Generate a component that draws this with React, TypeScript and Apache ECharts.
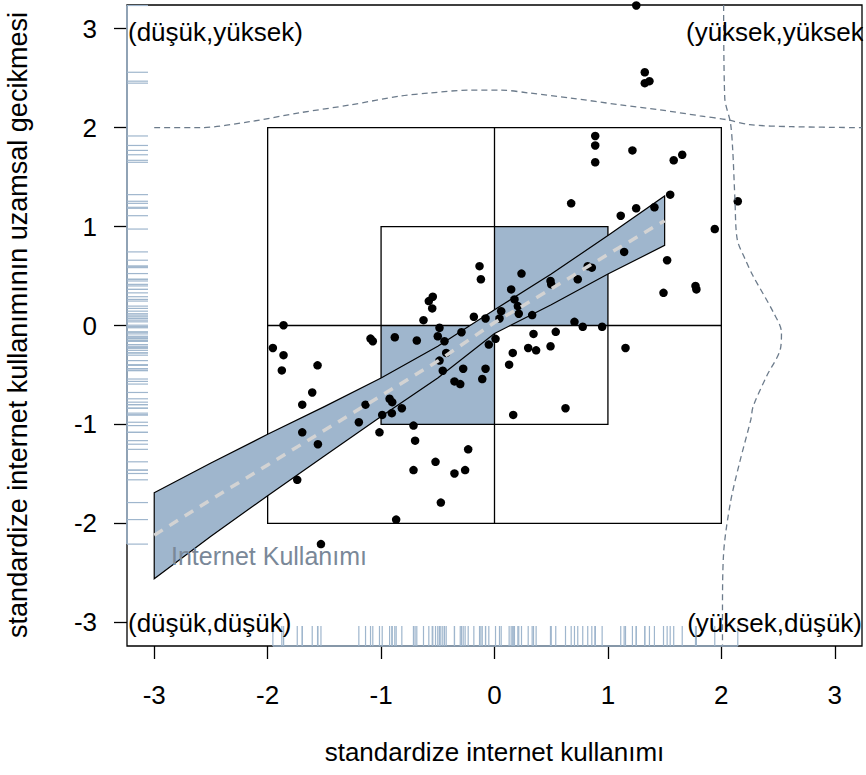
import React, { useEffect, useRef } from 'react';
import * as echarts from 'echarts';

const FONT = '"Liberation Sans", Arial, Helvetica, sans-serif';
const AXIS_MIN = -3.24;
const AXIS_MAX = 3.24;
const tickValues = [-3, -2, -1, 0, 1, 2, 3];

// observations: standardized internet use (x) and its spatial lag (y)
const pointsX = [
  1.25, 1.325, 1.325, 1.366,
  0.888, 0.888, 0.888, 1.216, 1.58, 1.655, 0.676, 1.549, 1.113, 1.249, 1.41, 1.942, 2.145,
  1.143, 0.822, 0.858, 1.522, 0.734, 1.49, 1.772, 1.78, 0.238, 0.494, 0.5, 0.147, 0.176,
  0.206, 0.059, 0.214, 0.332, -0.079, 0.044, 0.705, 0.778, 0.949, -0.132, -0.12,
  0.344, 0.54, 0.009, -0.05, 0.297, 0.367, 0.494, 0.161, 1.155, 0.129, 0.165, 0.626, -0.182,
  -0.544, -0.579, -0.549, -0.626,
  -0.485, -0.291, -0.5, -0.441, -0.426, -0.485, -0.456, -0.276, -0.079, -0.108, -0.353, -0.302,
  -1.86, -1.954, -1.86, -1.875, -1.56, -1.607, -1.695, -1.695, -1.557, -1.739,
  -1.093, -1.073, -0.879, -0.685, -1.137, -0.925, -0.902, -0.817, -0.99, -0.905, -1.196,
  -1.014, -0.714, -0.7, -0.232, -0.52, -0.714, -0.353, -0.259, -0.473, -0.867, -1.53,
];
const pointsY = [
  3.235, 2.56, 2.45, 2.47,
  1.916, 1.82, 1.65, 1.77, 1.67, 1.726, 1.235, 1.323, 1.11, 1.185, 1.195, 0.975, 1.256,
  0.744, 0.6, 0.585, 0.66, 0.467, 0.33, 0.4, 0.365, 0.525, 0.45, 0.416, 0.365, 0.264,
  0.196, 0.145, 0.119, 0.105, 0.071, 0.071, 0.037, -0.013, -0.013, 0.6, 0.467,
  -0.085, -0.064, -0.135, -0.193, -0.227, -0.251, -0.21, -0.277, -0.227, -0.396, -0.904, -0.836, 0.088,
  0.291, 0.247, 0.173, 0.054,
  -0.023, -0.068, -0.109, -0.159, -0.277, -0.355, -0.457, -0.437, -0.437, -0.541, -0.565, -0.592,
  0.003, -0.227, -0.3, -0.454, -0.403, -0.677, -0.8, -1.08, -1.2, -1.56,
  -0.132, -0.159, -0.119, -0.152, -0.8, -0.741, -0.775, -0.836, -0.904, -0.886, -0.978,
  -1.08, -1.012, -1.164, -1.252, -1.378, -1.462, -1.496, -1.462, -1.79, -1.962, -2.21,
];

// regression fit: confidence band and smoothed centre line
const bandX = [-3, -2.5, -2, -1.5, -1, -0.5, 0, 0.5, 1, 1.5];
const bandUpper = [-1.69, -1.39, -1.1, -0.82, -0.53, -0.21, 0.16, 0.52, 0.91, 1.31];
const bandLower = [-2.56, -2.13, -1.72, -1.32, -0.92, -0.53, -0.08, 0.21, 0.52, 0.81];
const fitCenter = [-2.12, -1.76, -1.41, -1.06, -0.71, -0.36, 0.03, 0.37, 0.72, 1.06];

// marginal density of x (drawn above baseline y = 2)
const densXx = [-3.0, -2.6, -2.16, -1.72, -1.27, -0.83, -0.57, -0.22, 0.05, 0.31, 0.67, 1.11, 1.46, 1.81, 2.05, 2.25, 2.62, 3.24];
const densXy = [2.0, 2.0, 2.06, 2.15, 2.23, 2.32, 2.35, 2.38, 2.38, 2.35, 2.3, 2.23, 2.18, 2.12, 2.08, 2.03, 2.01, 2.0];
// marginal density of y (drawn right of baseline x = 2)
const densYy = [3.24, 2.3, 2.05, 1.78, 1.27, 0.87, 0.67, 0.5, 0.13, -0.07, -0.24, -0.51, -0.82, -0.95, -1.39, -1.79, -2.3, -2.9, -3.24];
const densYx = [2.02, 2.03, 2.08, 2.1, 2.12, 2.14, 2.21, 2.28, 2.46, 2.53, 2.52, 2.4, 2.28, 2.26, 2.16, 2.08, 2.02, 2.01, 2.01];

// quadrant guides: [x0, y0, x1, y1]
const filledSquares = [[0, 0, 1, 1], [-1, -1, 0, 0]];
const outlineSquares = [[-2, -2, 2, 2], [-1, -1, 1, 1]];
const crossLines = [[0, -2, 0, 2], [-2, 0, 2, 0]];

const SLATE3 = '#9FB6CD';
const SLATE4 = '#6C7B8B';

export default function App() {
  const ref = useRef<HTMLDivElement>(null);
  useEffect(() => {
    if (!ref.current) return;
    const chart = echarts.init(ref.current, null, { renderer: 'svg' });

    const rectSeries = (rows: number[][], style: any) => ({
      type: 'custom',
      coordinateSystem: 'cartesian2d',
      silent: true,
      data: rows,
      renderItem: (params: any, api: any) => {
        const p0 = api.coord([api.value(0), api.value(1)]);
        const p1 = api.coord([api.value(2), api.value(3)]);
        return {
          type: 'rect',
          shape: {
            x: Math.min(p0[0], p1[0]),
            y: Math.min(p0[1], p1[1]),
            width: Math.abs(p1[0] - p0[0]),
            height: Math.abs(p1[1] - p0[1]),
          },
          style,
        };
      },
    });

    const segSeries = (rows: number[][], style: any) => ({
      type: 'custom',
      coordinateSystem: 'cartesian2d',
      silent: true,
      data: rows,
      renderItem: (params: any, api: any) => {
        const p0 = api.coord([api.value(0), api.value(1)]);
        const p1 = api.coord([api.value(2), api.value(3)]);
        return { type: 'line', shape: { x1: p0[0], y1: p0[1], x2: p1[0], y2: p1[1] }, style };
      },
    });

    const axisCommon = {
      type: 'value',
      min: AXIS_MIN,
      max: AXIS_MAX,
      splitLine: { show: false },
      axisLine: { show: false, onZero: false },
      axisTick: {
        show: true,
        inside: false,
        length: 13,
        customValues: tickValues,
        lineStyle: { color: '#000', width: 1.3 },
      },
    };

    const minX = Math.min(...pointsX);
    const maxX = Math.max(...pointsX);
    const minY = Math.min(...pointsY);
    const maxY = Math.max(...pointsY);

    const textStyle = (text: string, align: string, size = 26) => ({
      text,
      fontSize: size,
      fontFamily: FONT,
      fill: '#000',
      textAlign: align,
      align,
      textVerticalAlign: 'middle',
      verticalAlign: 'middle',
    });

    chart.setOption({
      animation: false,
      backgroundColor: '#fff',
      grid: {
        left: 127,
        right: 4,
        top: 5,
        bottom: 129,
        show: true,
        borderColor: '#000',
        borderWidth: 1.3,
        backgroundColor: 'transparent',
        outerBoundsMode: 'none',
      },
      xAxis: {
        ...axisCommon,
        axisLabel: {
          customValues: tickValues,
          margin: 36,
          fontSize: 26,
          fontFamily: FONT,
          color: '#000',
          formatter: (v: number) => String(v),
        },
      },
      yAxis: {
        ...axisCommon,
        axisLabel: {
          customValues: tickValues,
          margin: 30,
          fontSize: 26,
          fontFamily: FONT,
          color: '#000',
          formatter: (v: number) => String(v),
        },
      },
      series: [
        rectSeries(filledSquares, { fill: SLATE3, stroke: 'none' }),
        rectSeries(outlineSquares, { fill: 'none', stroke: '#000', lineWidth: 1.3 }),
        segSeries(crossLines, { stroke: '#000', lineWidth: 1.3 }),
        {
          type: 'custom',
          coordinateSystem: 'cartesian2d',
          silent: true,
          data: [[bandX[0], bandUpper[0]]],
          renderItem: (params: any, api: any) => {
            const up = bandX.map((x, i) => api.coord([x, bandUpper[i]]));
            const lo = bandX.map((x, i) => api.coord([x, bandLower[i]])).reverse();
            return {
              type: 'polygon',
              shape: { points: up.concat(lo) },
              style: { fill: SLATE3, stroke: '#000', lineWidth: 1.2 },
            };
          },
        },
        {
          type: 'line',
          silent: true,
          showSymbol: false,
          data: bandX.map((x, i) => [x, fitCenter[i]]),
          lineStyle: { color: '#D3D3D3', width: 3.5, type: [10, 8] },
        },
        {
          type: 'scatter',
          silent: true,
          symbol: 'circle',
          symbolSize: 8.5,
          data: pointsX.map((x, i) => [x, pointsY[i]]),
          itemStyle: { color: '#000', opacity: 1 },
          clip: true,
        },
        {
          type: 'line',
          silent: true,
          showSymbol: false,
          smooth: 0.3,
          data: densXx.map((x, i) => [x, densXy[i]]),
          lineStyle: { color: SLATE4, width: 1.3, type: [6, 4] },
        },
        {
          type: 'line',
          silent: true,
          showSymbol: false,
          smooth: 0.3,
          data: densYx.map((x, i) => [x, densYy[i]]),
          lineStyle: { color: SLATE4, width: 1.3, type: [6, 4] },
        },
        {
          type: 'custom',
          coordinateSystem: 'cartesian2d',
          silent: true,
          data: pointsX.map((x) => [x, AXIS_MIN]),
          renderItem: (params: any, api: any) => {
            const p = api.coord([api.value(0), api.value(1)]);
            return { type: 'line', shape: { x1: p[0], y1: p[1], x2: p[0], y2: p[1] - 20 }, style: { stroke: SLATE3, lineWidth: 1.2 } };
          },
        },
        {
          type: 'custom',
          coordinateSystem: 'cartesian2d',
          silent: true,
          data: pointsY.map((y) => [AXIS_MIN, y]),
          renderItem: (params: any, api: any) => {
            const p = api.coord([api.value(0), api.value(1)]);
            return { type: 'line', shape: { x1: p[0], y1: p[1], x2: p[0] + 21, y2: p[1] }, style: { stroke: SLATE3, lineWidth: 1.2 } };
          },
        },
        {
          type: 'line',
          silent: true,
          showSymbol: false,
          clip: false,
          data: [[minX, AXIS_MIN], [maxX, AXIS_MIN]],
          lineStyle: { color: SLATE3, width: 1.6 },
        },
        {
          type: 'line',
          silent: true,
          showSymbol: false,
          clip: false,
          data: [[AXIS_MIN, minY], [AXIS_MIN, Math.min(maxY, AXIS_MAX)]],
          lineStyle: { color: SLATE3, width: 1.6 },
        },
      ],
      graphic: [
        { type: 'text', x: 128, y: 32, z: 100, style: textStyle('(düşük,yüksek)', 'left') },
        { type: 'text', x: 686, y: 32, z: 100, style: textStyle('(yüksek,yüksek)', 'left') },
        { type: 'rect', z: 101, shape: { x: 863.2, y: 0, width: 6, height: 60 }, style: { fill: '#fff' } },
        { type: 'text', x: 128, y: 623, z: 100, style: textStyle('(düşük,düşük)', 'left') },
        { type: 'text', x: 862, y: 623, z: 100, style: textStyle('(yüksek,düşük)', 'right') },
        {
          type: 'text',
          x: 171,
          y: 556,
          z: 100,
          style: { ...textStyle('Internet Kullanımı', 'left', 25), fill: '#7A8898' },
        },
        { type: 'text', x: 494.5, y: 752, z: 100, style: textStyle('standardize internet kullanımı', 'center') },
        {
          type: 'text',
          x: 18,
          y: 325,
          rotation: Math.PI / 2,
          z: 100,
          style: textStyle('standardize internet kullanımının uzamsal gecikmesi', 'center', 27),
        },
      ],
    });
    return () => chart.dispose();
  }, []);
  return <div ref={ref} style={{ position: 'absolute', left: 0, top: 0, width: 866, height: 775 }} />;
}
